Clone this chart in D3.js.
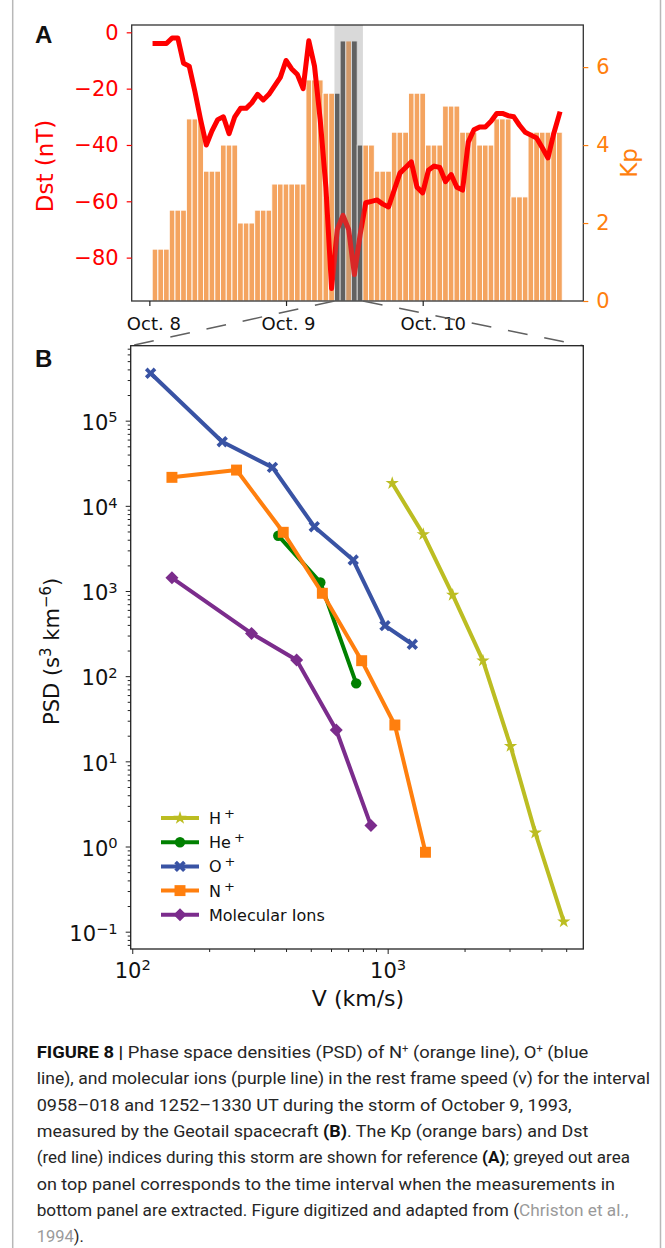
<!DOCTYPE html>
<html>
<head>
<meta charset="utf-8">
<script src="https://cdn.jsdelivr.net/npm/d3@7"></script>
<style>
  html, body { margin: 0; padding: 0; background: #fff; }
  svg { display: block; }
</style>
</head>
<body>
<svg id="fig" width="665" height="1248"></svg>
<script>
// ---------------- Panel A: storm indices, hours counted from 8 Oct 1993 00 UT ----------------
const dayLabels = ["Oct. 8", "Oct. 9", "Oct. 10"];
const dayHours = [0, 24, 48];

// Kp, one value per 3-hour interval (drawn as three hourly bars each)
const kp3h = [1.33, 2.33, 4.67, 3.33, 4.0, 2.0, 2.33, 3.0,
              3.0, 5.67, 5.33, 6.67, 4.0, 3.33, 4.33, 5.33,
              4.0, 5.0, 4.33, 4.0, 4.67, 2.67, 4.33, 4.33];

// hourly Dst (nT) for hours 1..72
const dst = [-4, -4, -4, -2, -2, -11, -12, -21, -31, -40,
             -35, -31, -30, -36, -30, -27, -27, -25, -22, -24,
             -22, -19, -16, -10, -13, -15, -20, -3, -12, -31,
             -55, -91, -70, -65, -70, -86, -72, -60.5, -60, -59.5,
             -61, -62, -56, -50, -48, -46, -55, -57, -49, -47.5,
             -48, -53, -50.5, -55, -56, -39, -34.6, -33.6, -33.6, -31.6,
             -28.8, -28.8, -29.6, -30, -33, -35.5, -36.5, -37.5, -41, -44.6,
             -36, -29];

// hourly bars that fall inside the measurement interval, and the shaded span (hours)
const intervalHours = [33, 34, 36, 37];
const intervalSpan = [32.5, 37.5];

const dstTicks = [0, -20, -40, -60, -80];
const kpTicks = [0, 2, 4, 6];

// ---------------- Panel B: phase space density vs speed ----------------
const ionNames = ["H", "He", "O", "N", "Molecular Ions"];
const hVel = [1042, 1379, 1797, 2361, 3028, 3784, 4892];
const hPsd = [1.84e4, 4.63e3, 898, 152, 15.1, 1.45, 0.131];
const heVel = [373, 545, 753];
const hePsd = [4.46e3, 1.26e3, 82.4];
const oVel = [118, 225, 354, 516, 733, 976, 1249];
const oPsd = [3.6e5, 5.66e4, 2.83e4, 5.69e3, 2.31e3, 392, 237];
const nVel = [143, 256, 390, 555, 791, 1067, 1406];
const nPsd = [2.16e4, 2.63e4, 4.89e3, 940, 152, 26.7, 0.856];
const molVel = [143, 293, 440, 629, 860];
const molPsd = [1.43e3, 318, 155, 23.3, 1.76];

const vMajorTicks = [100, 1000];
const psdMajorTicks = [1e-1, 1e0, 1e1, 1e2, 1e3, 1e4, 1e5];

// ---------------- caption ----------------
const captionLines = [
  [["FIGURE 8 | ", "b"], ["Phase space densities (PSD) of N", "n"], ["+", "sup"], [" (orange line), O", "n"], ["+", "sup"], [" (blue", "n"]],
  [["line), and molecular ions (purple line) in the rest frame speed (v) for the interval", "n"]],
  [["0958–018 and 1252–1330 UT during the storm of October 9, 1993,", "n"]],
  [["measured by the Geotail spacecraft ", "n"], ["(B)", "b"], [". The Kp (orange bars) and Dst", "n"]],
  [["(red line) indices during this storm are shown for reference ", "n"], ["(A)", "b"], ["; greyed out area", "n"]],
  [["on top panel corresponds to the time interval when the measurements in", "n"]],
  [["bottom panel are extracted. Figure digitized and adapted from (", "n"], ["Christon et al.,", "cite"]],
  [["1994", "cite"], [").", "n"]]
];

// ======================================================================
const svg = d3.select("#fig");
const FONT = "DejaVu Sans, sans-serif";

// figure frame lines
svg.append("line").attr("x1", 12.7).attr("x2", 12.7).attr("y1", 0).attr("y2", 1248)
  .attr("stroke", "#b8b8b8").attr("stroke-width", 1.5);
svg.append("line").attr("x1", 660.5).attr("x2", 660.5).attr("y1", 0).attr("y2", 1248)
  .attr("stroke", "#b8b8b8").attr("stroke-width", 1.5);

// ---------------- Panel A ----------------
const A = { left: 131.7, right: 583.3, top: 25, bottom: 301 };
const xA = d3.scaleLinear().domain([-3.1, 76.2]).range([A.left, A.right]);
const yDst = d3.scaleLinear().domain([-95.4, 2.6]).range([A.bottom, A.top]);
const yKp = d3.scaleLinear().domain([0, 7.08]).range([A.bottom, A.top]);

const kpHourly = d3.range(kp3h.length * 3).map(i => ({ hour: i + 1, kp: kp3h[Math.floor(i / 3)] }));

const gA = svg.append("g");
gA.selectAll("rect.kp").data(kpHourly).join("rect")
  .attr("class", "kp")
  .attr("x", d => xA(d.hour - 0.5))
  .attr("width", d => xA(d.hour + 0.5) - xA(d.hour - 0.5))
  .attr("y", d => yKp(d.kp))
  .attr("height", d => yKp(0) - yKp(d.kp))
  .attr("fill", d => intervalHours.includes(d.hour) ? "#545454" : "#f4a460")
  .attr("stroke", "#fff").attr("stroke-width", 0.9);

const dstLine = d3.line().x((d, i) => xA(i + 1)).y(d => yDst(d));
gA.append("path").datum(dst)
  .attr("d", dstLine)
  .attr("fill", "none").attr("stroke", "#ff0000").attr("stroke-width", 5)
  .attr("stroke-linejoin", "round").attr("stroke-linecap", "square");

// shaded measurement interval
gA.append("rect")
  .attr("x", xA(intervalSpan[0])).attr("width", xA(intervalSpan[1]) - xA(intervalSpan[0]))
  .attr("y", A.top).attr("height", A.bottom - A.top)
  .attr("fill", "#808080").attr("fill-opacity", 0.3);

// spines
gA.append("rect").attr("x", A.left).attr("y", A.top)
  .attr("width", A.right - A.left).attr("height", A.bottom - A.top)
  .attr("fill", "none").attr("stroke", "#333").attr("stroke-width", 1.3);

// left axis: Dst
const axDst = gA.append("g").attr("transform", `translate(${A.left},0)`)
  .call(d3.axisLeft(yDst).tickValues(dstTicks).tickSize(5).tickPadding(8));
axDst.select(".domain").remove();
axDst.selectAll(".tick line").attr("stroke", "#ff0000").attr("stroke-width", 1.2);
axDst.selectAll(".tick text").attr("fill", "#ff0000").attr("font-family", FONT).attr("font-size", 21);

// right axis: Kp
const axKp = gA.append("g").attr("transform", `translate(${A.right},0)`)
  .call(d3.axisRight(yKp).tickValues(kpTicks).tickSize(5).tickPadding(8));
axKp.select(".domain").remove();
axKp.selectAll(".tick line").attr("stroke", "#ff7f0e").attr("stroke-width", 1.2);
axKp.selectAll(".tick text").attr("fill", "#ff7f0e").attr("font-family", FONT).attr("font-size", 21);

// bottom axis: days
const dayNudge = [4, 2, 10];
const axDay = gA.append("g").attr("transform", `translate(0,${A.bottom})`)
  .call(d3.axisBottom(xA).tickValues(dayHours).tickSize(5).tickPadding(11)
    .tickFormat((d, i) => dayLabels[i]));
axDay.select(".domain").remove();
axDay.selectAll(".tick line").attr("stroke", "#222").attr("stroke-width", 1.2);
axDay.selectAll(".tick text").attr("fill", "#111").attr("font-family", FONT).attr("font-size", 18)
  .attr("dx", (d, i) => dayNudge[i]);

// axis titles
svg.append("text").attr("transform", `translate(53,${(A.top + A.bottom) / 2 + 3}) rotate(-90)`)
  .attr("text-anchor", "middle").attr("font-family", FONT).attr("font-size", 23)
  .attr("fill", "#ff0000").text("Dst (nT)");
svg.append("text").attr("transform", `translate(637,${(A.top + A.bottom) / 2}) rotate(-90)`)
  .attr("text-anchor", "middle").attr("font-family", FONT).attr("font-size", 23)
  .attr("fill", "#ff7f0e").text("Kp");

svg.append("text").attr("x", 35).attr("y", 43).attr("font-family", "Liberation Sans, Arial, sans-serif")
  .attr("font-weight", "bold").attr("font-size", 24).attr("fill", "#111").text("A");

// ---------------- Panel B ----------------
const B = { left: 130.7, right: 583.3, top: 345.7, bottom: 949 };
const xB = d3.scaleLog().domain([98.6, 5834]).range([B.left, B.right]);
const yB = d3.scaleLog().domain([0.0626, 7.59e5]).range([B.bottom, B.top]);

// zoom connectors from the shaded interval to panel B
const conn = [[xA(intervalSpan[0]), A.bottom, B.left, B.top], [xA(intervalSpan[1]), A.bottom, B.right, B.top]];
svg.selectAll("line.conn").data(conn).join("line").attr("class", "conn")
  .attr("x1", d => d[0]).attr("y1", d => d[1]).attr("x2", d => d[2]).attr("y2", d => d[3])
  .attr("stroke", "#606060").attr("stroke-width", 1.5).attr("stroke-dasharray", "20,17");

const gB = svg.append("g");

// minor tick values inside the domain
function minorTicks(scale) {
  const [lo, hi] = scale.domain();
  const out = [];
  for (let e = Math.floor(Math.log10(lo)); e <= Math.ceil(Math.log10(hi)); e++) {
    for (let k = 2; k <= 9; k++) {
      const v = k * Math.pow(10, e);
      if (v >= lo && v <= hi) out.push(v);
    }
  }
  return out;
}
function powerLabel(sel) {
  sel.each(function (d) {
    const e = Math.round(Math.log10(d));
    const t = d3.select(this).text("10");
    t.append("tspan").attr("font-size", "0.7em").attr("dy", -7.5).text(e < 0 ? "\u2212" + (-e) : e);
  });
}

// y axis
const axYmin = gB.append("g").attr("transform", `translate(${B.left},0)`)
  .call(d3.axisLeft(yB).tickValues(minorTicks(yB)).tickSize(3).tickFormat(""));
axYmin.select(".domain").remove();
const axY = gB.append("g").attr("transform", `translate(${B.left},0)`)
  .call(d3.axisLeft(yB).tickValues(psdMajorTicks).tickSize(5).tickPadding(8));
axY.select(".domain").remove();
axY.selectAll(".tick text").attr("font-family", FONT).attr("font-size", 21).attr("fill", "#111")
  .attr("dy", "0.42em").call(powerLabel);

// x axis
const axXmin = gB.append("g").attr("transform", `translate(0,${B.bottom})`)
  .call(d3.axisBottom(xB).tickValues(minorTicks(xB)).tickSize(3).tickFormat(""));
axXmin.select(".domain").remove();
const axX = gB.append("g").attr("transform", `translate(0,${B.bottom})`)
  .call(d3.axisBottom(xB).tickValues(vMajorTicks).tickSize(5).tickPadding(9));
axX.select(".domain").remove();
axX.selectAll(".tick text").attr("font-family", FONT).attr("font-size", 21).attr("fill", "#111")
  .call(powerLabel);
gB.selectAll(".tick line").attr("stroke", "#222").attr("stroke-width", 1);

// spines
gB.append("rect").attr("x", B.left).attr("y", B.top)
  .attr("width", B.right - B.left).attr("height", B.bottom - B.top)
  .attr("fill", "none").attr("stroke", "#222").attr("stroke-width", 1.3);

// marker shapes
const filledX = {
  draw(ctx, size) {
    const r = Math.sqrt(size) * 0.62, w = r * 0.3;
    const pts = [[-w, -r], [w, -r], [w, -w], [r, -w], [r, w], [w, w], [w, r], [-w, r], [-w, w], [-r, w], [-r, -w], [-w, -w]]
      .map(([x, y]) => [(x - y) * Math.SQRT1_2, (x + y) * Math.SQRT1_2]);
    ctx.moveTo(pts[0][0], pts[0][1]);
    pts.slice(1).forEach(p => ctx.lineTo(p[0], p[1]));
    ctx.closePath();
  }
};
const squareDiamond = {
  draw(ctx, size) {
    const r = Math.sqrt(size) * 0.62;
    ctx.moveTo(0, -r); ctx.lineTo(r, 0); ctx.lineTo(0, r); ctx.lineTo(-r, 0); ctx.closePath();
  }
};

const ions = [
  { name: ionNames[0], vel: hVel, psd: hPsd, color: "#bcbd22", symbol: d3.symbolStar, size: 55 },
  { name: ionNames[1], vel: heVel, psd: hePsd, color: "#008000", symbol: d3.symbolCircle, size: 85 },
  { name: ionNames[2], vel: oVel, psd: oPsd, color: "#3953a4", symbol: filledX, size: 100 },
  { name: ionNames[3], vel: nVel, psd: nPsd, color: "#ff7f0e", symbol: d3.symbolSquare, size: 120 },
  { name: ionNames[4], vel: molVel, psd: molPsd, color: "#7b2c8c", symbol: squareDiamond, size: 110 }
];

const psdLine = d3.line().x(d => xB(d[0])).y(d => yB(d[1]));
ions.forEach(ion => {
  const pts = ion.vel.map((v, i) => [v, ion.psd[i]]);
  const g = gB.append("g");
  g.append("path").datum(pts).attr("d", psdLine)
    .attr("fill", "none").attr("stroke", ion.color).attr("stroke-width", 4)
    .attr("stroke-linejoin", "round");
  g.selectAll("path.m").data(pts).join("path").attr("class", "m")
    .attr("transform", d => `translate(${xB(d[0])},${yB(d[1])})`)
    .attr("d", d3.symbol(ion.symbol, ion.size))
    .attr("fill", ion.color);
});

// legend
const leg = gB.append("g").attr("transform", "translate(161,818)");
ions.forEach((ion, i) => {
  const row = leg.append("g").attr("transform", `translate(0,${i * 24.2})`);
  row.append("line").attr("x1", 0).attr("x2", 38).attr("y1", 0).attr("y2", 0)
    .attr("stroke", ion.color).attr("stroke-width", 4);
  row.append("path").attr("transform", "translate(19,0)")
    .attr("d", d3.symbol(ion.symbol, ion.size)).attr("fill", ion.color);
  const t = row.append("text").attr("x", 48).attr("y", 6)
    .attr("font-family", FONT).attr("font-size", 16).attr("fill", "#111").text(ion.name);
  if (i < 4) t.append("tspan").attr("dx", 3).attr("dy", -6).attr("font-size", 13).text("+");
});

// axis titles
const yTitle = svg.append("text")
  .attr("transform", `translate(59,${(B.top + B.bottom) / 2 + 4}) rotate(-90)`)
  .attr("text-anchor", "middle").attr("font-family", FONT).attr("font-size", 21).attr("fill", "#111");
yTitle.append("tspan").text("PSD (s");
yTitle.append("tspan").attr("dy", -8).attr("font-size", 15).text("3");
yTitle.append("tspan").attr("dy", 8).text(" km");
yTitle.append("tspan").attr("dy", -8).attr("font-size", 15).text("\u22126");
yTitle.append("tspan").attr("dy", 8).text(")");

svg.append("text").attr("x", (B.left + B.right) / 2 + 1).attr("y", 1006)
  .attr("text-anchor", "middle").attr("font-family", FONT).attr("font-size", 22).attr("fill", "#111")
  .text("V (km/s)");

svg.append("text").attr("x", 35).attr("y", 367).attr("font-family", "Liberation Sans, Arial, sans-serif")
  .attr("font-weight", "bold").attr("font-size", 24).attr("fill", "#111").text("B");

// ---------------- caption ----------------
const capWidths = [551.6, 613.3, 535, 551.6, 593.3, 578.3, 591.6, null];
const cap = svg.append("g").attr("font-family", "Roboto, Liberation Sans, sans-serif").attr("font-size", 16.5);
captionLines.forEach((segs, i) => {
  const t = cap.append("text").attr("x", 36.7).attr("y", 1058 + i * 26.3)
    .attr("fill", "#262626").attr("font-weight", 400);
  if (capWidths[i]) t.attr("textLength", capWidths[i]).attr("lengthAdjust", "spacingAndGlyphs");
  segs.forEach(([txt, kind]) => {
    const s = t.append("tspan").text(txt);
    if (kind === "b") s.attr("font-weight", 700).attr("fill", "#111");
    if (kind === "cite") s.attr("fill", "#9a9a9a");
    if (kind === "sup") s.attr("font-size", 10).attr("dy", -6);
    if (kind === "n" && i === 0 && txt.startsWith(" (")) s.attr("dy", 6);
  });
});
</script>
</body>
</html>
